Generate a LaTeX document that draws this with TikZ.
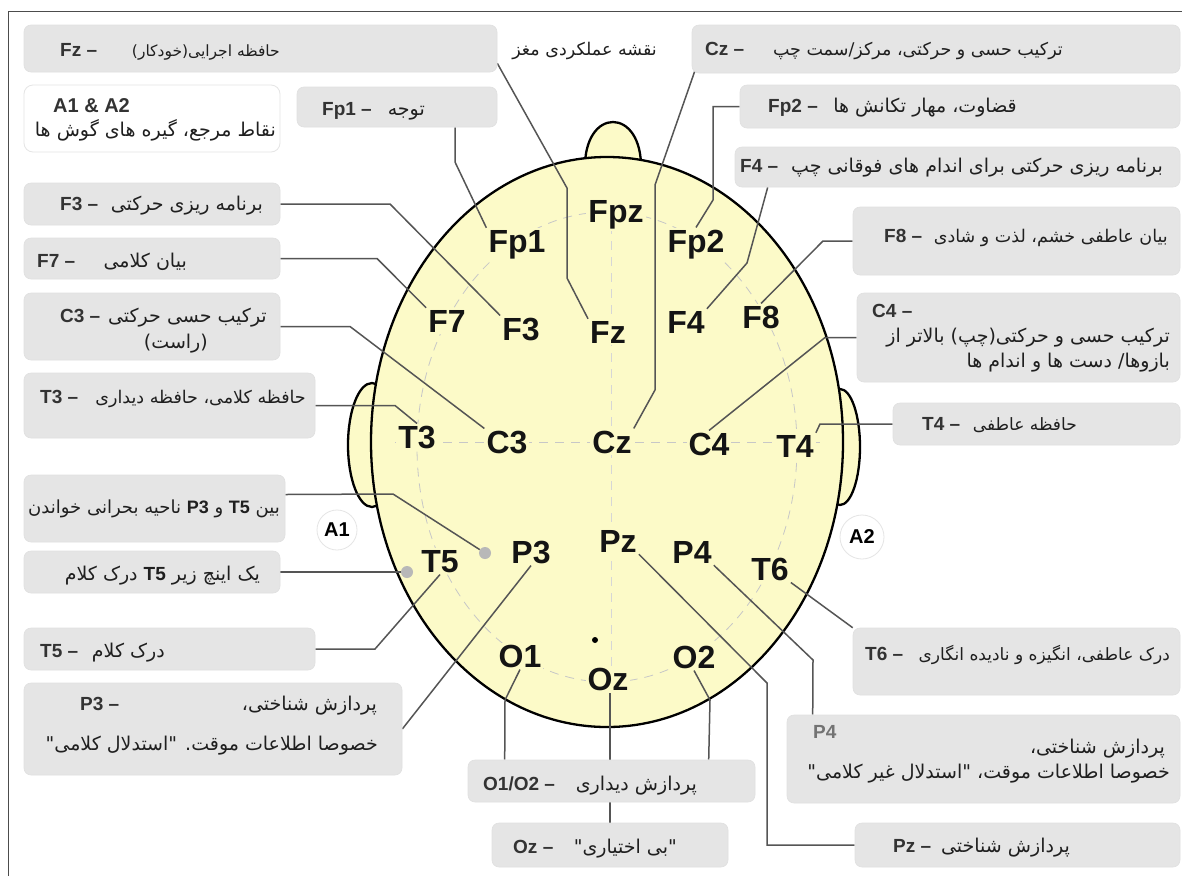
\documentclass[tikz,border=0pt]{standalone}
\usepackage{fontspec}
\usetikzlibrary{calc,fit}
\TeXXeTstate=1
\newfontfamily\arialf{Liberation Sans}
\newfontfamily\fafont[Script=Arabic]{DejaVu Sans}
\definecolor{headfill}{RGB}{252,250,200}
\definecolor{boxgray}{RGB}{229,229,229}
\definecolor{linegray}{RGB}{85,85,85}
\pgfdeclarelayer{bg}
\pgfdeclarelayer{mid}
\pgfsetlayers{bg,mid,main}
\newcommand{\LB}[1]{{\arialf\bfseries #1}}
\newcommand{\fs}[1]{\fafont\fontsize{#1}{#1}\selectfont}
\begin{document}
\begin{tikzpicture}[x=1pt,y=-1pt,
  box/.style={rounded corners=7pt, fill=boxgray, draw=black!12, line width=0.6pt, inner sep=0pt},
  wbox/.style={rounded corners=9pt, fill=white, draw=black!10, line width=0.8pt, inner sep=0pt},
  conn/.style={draw=linegray, line width=1.5pt},
  el/.style={font=\arialf\bfseries\fontsize{32}{36}\selectfont, anchor=base, inner sep=2pt, text=black!92, fill=headfill},
  lab/.style={font=\arialf\bfseries\fontsize{19}{22}\selectfont, anchor=base west, inner sep=0pt, text=black!80},
  fa/.style={font=\fs{19}, anchor=base east, inner sep=0pt, text=black!88},
  gdot/.style={circle, fill=black!28, minimum size=12pt, inner sep=0pt},
  ear/.style={circle, draw=black!10, fill=white, inner sep=0pt, line width=0.8pt, font=\arialf\bfseries\fontsize{20}{22}\selectfont}
]
\useasboundingbox (0,0) rectangle (1182,876);

% ---------- head ----------
\begin{pgfonlayer}{bg}
\fill[white] (0,0) rectangle (1182,876);
\draw[black!70, line width=1pt] (8,876) -- (8,11) -- (1182,11);
\draw[fill=headfill, line width=2.3pt] (372,445) ellipse [x radius=24, y radius=62];
\draw[fill=headfill, line width=2.3pt] (840,447) ellipse [x radius=20, y radius=58];
\draw[fill=headfill, line width=2.3pt] (585,170) .. controls (583,106) and (643,106) .. (641,170) -- cycle;
\draw[fill=headfill, line width=2.3pt] (607,442) ellipse [x radius=236, y radius=285];
\draw[black!22, line width=0.8pt, dash pattern=on 9pt off 7pt] (607,447) ellipse [x radius=190, y radius=235];
\draw[black!22, line width=0.8pt, dash pattern=on 9pt off 7pt] (395,442) -- (822,442);
\draw[black!16, line width=0.8pt, dash pattern=on 9pt off 7pt] (611,225) -- (611,668);
\end{pgfonlayer}

% ---------- electrodes ----------
\node[el] (fpz) at (616,222) {Fpz};
\node[el] (fp1) at (517,252) {Fp1};
\node[el] (fp2) at (696,252) {Fp2};
\node[el] (f7) at (447,332) {F7};
\node[el] (f3) at (521,340) {F3};
\node[el] (fz) at (608,343) {Fz};
\node[el] (f4) at (686,333) {F4};
\node[el] (f8) at (761,328) {F8};
\node[el] (t3) at (417,448) {T3};
\node[el] (c3) at (507,453) {C3};
\node[el] (cz) at (612,453) {Cz};
\node[el] (c4) at (709,455) {C4};
\node[el] (t4) at (795,457) {T4};
\node[el] (t5) at (440,572) {T5};
\node[el] (p3) at (531,563) {P3};
\node[el] (pz) at (618,552) {Pz};
\node[el] (p4) at (692,563) {P4};
\node[el] (t6) at (770,580) {T6};
\node[el] (o1) at (520,667) {O1};
\node[el] (o2) at (694,668) {O2};
\node[el] (oz) at (608,690) {Oz};
\node[circle, fill=black, minimum size=6pt, inner sep=0pt] (cdot) at (595,640) {};
\node[gdot] (dot1) at (485,553) {};
\node[gdot] (dot2) at (407,572) {};
\node[ear, minimum size=40pt] (a1) at (337,530) {A1};
\node[ear, minimum size=44pt] (a2) at (862,537) {A2};

% ---------- boxes ----------
\node[box, fit={(24,25) (497,72)}] (fzbox) {};
\node[wbox, fit={(24,85) (280,152)}] (aabox) {};
\node[box, fit={(297,87) (497,127)}] (fp1box) {};
\node[box, fit={(24,183) (280,225)}] (f3box) {};
\node[box, fit={(24,238) (280,279)}] (f7box) {};
\node[box, fit={(24,293) (280,360)}] (c3box) {};
\node[box, fit={(24,373) (315,438)}] (t3box) {};
\node[box, fit={(24,475) (285,542)}] (rdbox) {};
\node[box, fit={(24,551) (280,593)}] (inbox) {};
\node[box, fit={(24,628) (315,670)}] (t5box) {};
\node[box, fit={(24,683) (402,775)}] (p3box) {};
\node[box, fit={(692,25) (1180,73)}] (czbox) {};
\node[box, fit={(740,85) (1180,128)}] (fp2box) {};
\node[box, fit={(735,147) (1180,187)}] (f4box) {};
\node[box, fit={(853,207) (1180,275)}] (f8box) {};
\node[box, fit={(857,293) (1180,382)}] (c4box) {};
\node[box, fit={(893,403) (1180,445)}] (t4box) {};
\node[box, fit={(853,628) (1180,695)}] (t6box) {};
\node[box, fit={(787,715) (1180,803)}] (p4box) {};
\node[box, fit={(855,823) (1180,867)}] (pzbox) {};
\node[box, fit={(468,760) (755,802)}] (obox) {};
\node[box, fit={(492,823) (728,867)}] (ozbox) {};

% ---------- connectors ----------
\begin{pgfonlayer}{mid}
\draw[conn] ($(fzbox.south east)+(0,-9)$) -- (567,188) -- (567,278) -- (fz.north west);
\draw[conn] ($(fp1box.south)+(58,0)$) -- (455,162) -- (fp1.north west);
\draw[conn] ($(czbox.south west)+(3,-2)$) -- (655,185) -- (655,390) -- (cz.north east);
\draw[conn] (fp2box.west) -- (713,106.5) -- (713,200) -- (fp2.north);
\draw[conn] ($(f4box.south west)+(33,0)$) -- (747,263) -- (f4.north east);
\draw[conn] (f3box.east) -- (390,204) -- (f3.north west);
\draw[conn] (f7box.east) -- (377,258.5) -- (f7.north west);
\draw[conn] (c3box.east) -- (350,326.5) -- (c3.north west);
\draw[conn] (t3box.east) -- (395,405.5) -- (t3.north);
\draw[conn] (f8box.west) -- (823,241) -- (f8.north);
\draw[conn] (c4box.west) -- (825,337.5) -- (c4.north);
\draw[conn] (t4box.west) -- (820,424) -- (t4.north east);
\draw[conn] ($(rdbox.east)+(0,-14)$) -- (393,494) -- (dot1);
\draw[conn] (inbox.east) -- (dot2);
\draw[conn] (t5box.east) -- (375,649) -- (t5.south);
\draw[conn] (p3box.east) -- (p3.south);
\draw[conn] (t6box.north west) -- (t6.south east);
\draw[conn] ($(p4box.north west)+(26,0)$) -- (813,660) -- (p4.south east);
\draw[conn] (pzbox.west) -- (767,845) -- (767,683) -- (pz.south east);
\draw[conn] ($(obox.north west)+(37,0)$) -- (505,700) -- (o1.south);
\draw[conn] ($(obox.north west)+(241,0)$) -- (710,700) -- (o2.south);
\draw[conn] (ozbox.north) -- (ozbox.north |- oz.south);
\end{pgfonlayer}

% ---------- texts ----------
\node[fa, font=\fs{17.5}] (title) at (657,55) {\beginR نقشه عملکردی مغز\endR};

\node[lab] (fzl) at (60,56) {Fz –};
\node[fa, font=\fs{15.5}] (fzt) at (280,56) {\beginR حافظه اجرایی(خودکار)\endR};
\node[lab, font=\arialf\bfseries\fontsize{20}{22}\selectfont] (aal) at (53,112) {A1 \& A2};
\node[fa] (aat) at (276,136) {\beginR نقاط مرجع، گیره های گوش ها\endR};
\node[lab] (fp1l) at (322,115) {Fp1 –};
\node[fa] (fp1t) at (425,115) {\beginR توجه\endR};
\node[lab] (f3l) at (60,210) {F3 –};
\node[fa] (f3t) at (263,210) {\beginR برنامه ریزی حرکتی\endR};
\node[lab] (f7l) at (37,267) {F7 –};
\node[fa] (f7t) at (187,267) {\beginR بیان کلامی\endR};
\node[lab] (c3l) at (60,322) {C3 –};
\node[fa] (c3t) at (267,322) {\beginR ترکیب حسی حرکتی\endR};
\node[fa] (c3t2) at (208,348) {\beginR (راست)\endR};
\node[lab] (t3l) at (40,403) {T3 –};
\node[fa, font=\fs{17.5}] (t3t) at (306,403) {\beginR حافظه کلامی، حافظه دیداری\endR};
\node[fa, font=\fs{18}] (rdt) at (280,513) {\beginR بین \LB{T5} و \LB{P3} ناحیه بحرانی خواندن\endR};
\node[fa] (int) at (260,580) {\beginR یک اینچ زیر \LB{T5} درک کلام\endR};
\node[lab] (t5l) at (40,657) {T5 –};
\node[fa] (t5t) at (165,657) {\beginR درک کلام\endR};
\node[lab] (p3l) at (80,710) {P3 –};
\node[fa] (p3t) at (377,710) {\beginR پردازش شناختی،\endR};
\node[fa] (p3t2) at (378,750) {\beginR خصوصا اطلاعات موقت. "استدلال کلامی"\endR};

\node[lab] (czl) at (705,55) {Cz –};
\node[fa, font=\fs{17.5}] (czt) at (1063,55) {\beginR ترکیب حسی و حرکتی، مرکز/سمت چپ\endR};
\node[lab] (fp2l) at (768,112) {Fp2 –};
\node[fa] (fp2t) at (1017,112) {\beginR قضاوت، مهار تکانش ها\endR};
\node[lab] (f4l) at (740,172) {F4 –};
\node[fa] (f4t) at (1163,172) {\beginR برنامه ریزی حرکتی برای اندام های فوقانی چپ\endR};
\node[lab] (f8l) at (884,242) {F8 –};
\node[fa, font=\fs{17.5}] (f8t) at (1168,242) {\beginR بیان عاطفی خشم، لذت و شادی\endR};
\node[lab] (c4l) at (872,317) {C4 –};
\node[fa] (c4t) at (1170,342) {\beginR ترکیب حسی و حرکتی(چپ) بالاتر از\endR};
\node[fa] (c4t2) at (1170,367) {\beginR بازوها/ دست ها و اندام ها\endR};
\node[lab] (t4l) at (922,430) {T4 –};
\node[fa, font=\fs{17}] (t4t) at (1077,430) {\beginR حافظه عاطفی\endR};
\node[lab] (t6l) at (865,660) {T6 –};
\node[fa, font=\fs{17}] (t6t) at (1170,660) {\beginR درک عاطفی، انگیزه و نادیده انگاری\endR};
\node[lab, text=black!55] (p4l) at (813,738) {P4};
\node[fa] (p4t) at (1165,753) {\beginR پردازش شناختی،\endR};
\node[fa] (p4t2) at (1170,778) {\beginR خصوصا اطلاعات موقت، "استدلال غیر کلامی"\endR};
\node[lab] (pzl) at (893,852) {Pz –};
\node[fa] (pzt) at (1070,852) {\beginR پردازش شناختی\endR};
\node[lab] (ol) at (483,790) {O1/O2 –};
\node[fa] (ot) at (697,790) {\beginR پردازش دیداری\endR};
\node[lab] (ozl) at (513,853) {Oz –};
\node[fa] (ozt) at (677,853) {\beginR "بی اختیاری"\endR};
\end{tikzpicture}
\end{document}
